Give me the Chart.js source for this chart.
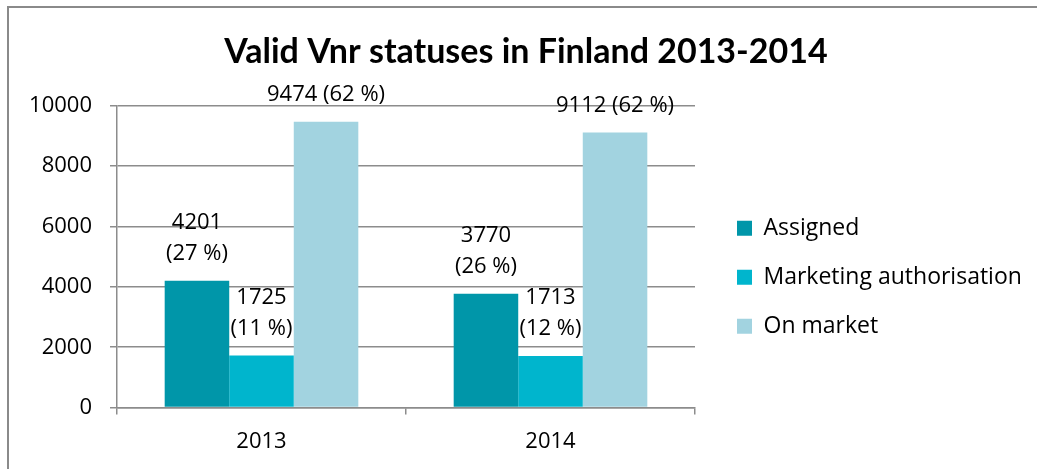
<!DOCTYPE html>
<html>
<head>
<meta charset="utf-8">
<script src="https://cdn.jsdelivr.net/npm/chart.js@4.4.1/dist/chart.umd.min.js"></script>
<style>
  html, body { margin: 0; padding: 0; background: #fff; overflow: hidden; }
  #wrap { position: absolute; left: 0; top: 0; width: 1056px; height: 469px; }
  #frame { position: absolute; left: 7px; top: 6px; width: 1100px; height: 500px;
           border-left: 2px solid #8a8a8a; border-top: 2px solid #8a8a8a; pointer-events: none; }
</style>
</head>
<body>
<div id="wrap"><canvas id="vnrChart"></canvas></div>
<div id="frame"></div>
<script>
var years = ["2013", "2014"];
var assigned = [4201, 3770];
var marketingAuth = [1725, 1713];
var onMarket = [9474, 9112];
var assignedPct = [27, 26];
var marketingAuthPct = [11, 12];
var onMarketPct = [62, 62];
var yTicks = [0, 2000, 4000, 6000, 8000, 10000];

var fontFamily = "'Open Sans', Lato, sans-serif";
var titleFamily = "Lato, 'Open Sans', sans-serif";
var gridColor = "#8c8c8c";
var yAxisWidth = 100;

// value labels above the bars, two lines for the first two series
var barLabels = {
  id: 'barLabels',
  afterDatasetsDraw: function(chart) {
    var ctx = chart.ctx;
    var pcts = [assignedPct, marketingAuthPct, onMarketPct];
    ctx.save();
    ctx.font = "22px " + fontFamily;
    ctx.fillStyle = "#000";
    ctx.textAlign = "center";
    ctx.textBaseline = "middle";
    chart.data.datasets.forEach(function(ds, i) {
      var meta = chart.getDatasetMeta(i);
      meta.data.forEach(function(bar, j) {
        var v = ds.data[j];
        var lines = i < 2 ? [String(v), "(" + pcts[i][j] + " %)"] : [v + " (" + pcts[i][j] + " %)"];
        var y = bar.y - 27 - (lines.length - 1) * 31;
        lines.forEach(function(t) {
          ctx.fillText(t, bar.x, y);
          y += 31;
        });
      });
    });
    ctx.restore();
  }
};

var config = {
  type: 'bar',
  data: {
    labels: years,
    datasets: [{
      label: "Assigned",
      data: assigned,
      backgroundColor: "#0096a9"
    }, {
      label: "Marketing authorisation",
      data: marketingAuth,
      backgroundColor: "#00b5cd"
    }, {
      label: "On market",
      data: onMarket,
      backgroundColor: "#a2d3e0"
    }]
  },
  options: {
    responsive: true,
    maintainAspectRatio: false,
    animation: false,
    layout: { padding: { left: 17, right: 0, top: 0, bottom: 0 } },
    datasets: { bar: { barPercentage: 1, categoryPercentage: 0.67 } },
    plugins: {
      title: {
        display: true,
        text: "Valid Vnr statuses in Finland 2013-2014",
        color: "#000",
        font: { family: titleFamily, size: 34, weight: "bold", lineHeight: 1.2 },
        padding: { top: 32, bottom: 33 }
      },
      legend: {
        position: 'right',
        fullSize: false,
        maxWidth: 420,
        title: { display: true, text: " ", font: { size: 10, lineHeight: 1 }, padding: { top: 31, bottom: 0 } },
        labels: {
          boxWidth: 15,
          boxHeight: 15,
          padding: 26,
          color: "#000",
          font: { family: fontFamily, size: 23 }
        }
      },
      tooltip: { enabled: false }
    },
    scales: {
      x: {
        grid: { display: true, drawOnChartArea: false, drawTicks: true, tickLength: 7, color: gridColor, lineWidth: 1.5 },
        border: { display: true, color: gridColor, width: 1.5 },
        ticks: { color: "#000", padding: 14, font: { family: fontFamily, size: 22 } }
      },
      y: {
        min: 0,
        max: 10000,
        afterBuildTicks: function(scale) {
          scale.ticks = yTicks.map(function(v) { return { value: v }; });
        },
        afterFit: function(scale) { scale.width = yAxisWidth; },
        grid: { color: gridColor, tickLength: 7, lineWidth: 1.5 },
        border: { display: true, color: gridColor, width: 1.5 },
        ticks: {
          color: "#000",
          padding: 18,
          font: { family: fontFamily, size: 22 },
          callback: function(v) { return String(v); }
        }
      },
      gap: {
        position: 'right',
        display: true,
        grid: { display: false },
        border: { display: false },
        ticks: { display: false },
        afterFit: function(scale) { scale.width = 16; }
      }
    }
  },
  plugins: [barLabels]
};

var ctx = document.getElementById("vnrChart").getContext("2d");
var chart = new Chart(ctx, config);
// place plot area at x 117..695 and keep the title centred near x 528
var legendW = chart.legend.width;
var padL = Math.max(0, Math.min(345 - legendW, 20));
yAxisWidth = 117 - padL;
chart.options.layout.padding.left = padL;
chart.options.layout.padding.right = 1056 - 711 - legendW;
chart.update();
</script>
</body>
</html>
